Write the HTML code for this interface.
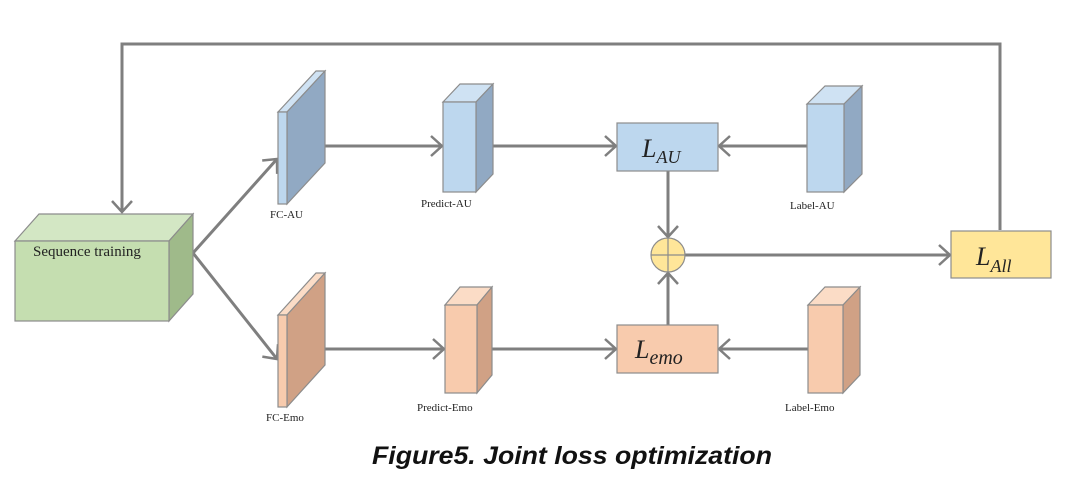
<!DOCTYPE html>
<html><head><meta charset="utf-8"><style>html,body{margin:0;padding:0;background:#fff}svg{display:block}</style></head>
<body>
<svg width="1080" height="485" viewBox="0 0 1080 485" xmlns="http://www.w3.org/2000/svg">
<defs>
<marker id="a" markerWidth="16" markerHeight="24" refX="13" refY="12" orient="auto" markerUnits="userSpaceOnUse">
<polyline points="2,2 13,12 2,22" fill="none" stroke="#7f7f7f" stroke-width="2.5"/>
</marker>
</defs>
<g stroke="#7f7f7f" stroke-width="3" fill="none">
<polyline points="1000,230 1000,44 122,44 122,212" marker-end="url(#a)"/>
<line x1="193" y1="253" x2="277" y2="159" marker-end="url(#a)"/>
<line x1="193" y1="253" x2="277" y2="359" marker-end="url(#a)"/>
<line x1="325" y1="146" x2="442" y2="146" marker-end="url(#a)"/>
<line x1="325" y1="349" x2="444" y2="349" marker-end="url(#a)"/>
<line x1="476" y1="146" x2="616" y2="146" marker-end="url(#a)"/>
<line x1="477" y1="349" x2="616" y2="349" marker-end="url(#a)"/>
<line x1="807" y1="146" x2="719" y2="146" marker-end="url(#a)"/>
<line x1="808" y1="349" x2="719" y2="349" marker-end="url(#a)"/>
<line x1="668" y1="171" x2="668" y2="237" marker-end="url(#a)"/>
<line x1="668" y1="325" x2="668" y2="273" marker-end="url(#a)"/>
<line x1="685" y1="255" x2="950" y2="255" marker-end="url(#a)"/>
</g>
<g stroke="#8c8c8c" stroke-width="1.2">
<polygon points="15,241 39,214 193,214 169,241" fill="#d3e7c4"/>
<polygon points="169,241 193,214 193,294 169,321" fill="#9fba8a"/>
<rect x="15" y="241" width="154" height="80" fill="#c5deb0"/>
<polygon points="278,112 316,71 325,71 287,112" fill="#cfe2f3"/>
<polygon points="287,112 325,71 325,163 287,204" fill="#91a9c3"/>
<rect x="278" y="112" width="9" height="92" fill="#bdd7ee"/>
<polygon points="278,315 316,273 325,273 287,315" fill="#fbdcc6"/>
<polygon points="287,315 325,273 325,365 287,407" fill="#d0a185"/>
<rect x="278" y="315" width="9" height="92" fill="#f8cbad"/>
<polygon points="443,102 460,84 493,84 476,102" fill="#cfe2f3"/>
<polygon points="476,102 493,84 493,174 476,192" fill="#91a9c3"/>
<rect x="443" y="102" width="33" height="90" fill="#bdd7ee"/>
<polygon points="445,305 460,287 492,287 477,305" fill="#fbdcc6"/>
<polygon points="477,305 492,287 492,375 477,393" fill="#d0a185"/>
<rect x="445" y="305" width="32" height="88" fill="#f8cbad"/>
<polygon points="807,104 825,86 862,86 844,104" fill="#cfe2f3"/>
<polygon points="844,104 862,86 862,174 844,192" fill="#91a9c3"/>
<rect x="807" y="104" width="37" height="88" fill="#bdd7ee"/>
<polygon points="808,305 825,287 860,287 843,305" fill="#fbdcc6"/>
<polygon points="843,305 860,287 860,375 843,393" fill="#d0a185"/>
<rect x="808" y="305" width="35" height="88" fill="#f8cbad"/>
<rect x="617" y="123" width="101" height="48" fill="#bdd7ee"/>
<rect x="617" y="325" width="101" height="48" fill="#f8cbad"/>
<rect x="951" y="231" width="100" height="47" fill="#ffe699"/>
<circle cx="668" cy="255" r="17" fill="#ffe699"/>
<line x1="651" y1="255" x2="685" y2="255"/>
<line x1="668" y1="238" x2="668" y2="272"/>
</g>
<g font-family="Liberation Serif, serif" fill="#222">
<text x="33" y="256" font-size="15">Sequence training</text>
<text x="270" y="218" font-size="11">FC-AU</text>
<text x="421" y="207" font-size="11">Predict-AU</text>
<text x="790" y="209" font-size="11">Label-AU</text>
<text x="266" y="421" font-size="11">FC-Emo</text>
<text x="417" y="411" font-size="11">Predict-Emo</text>
<text x="785" y="411" font-size="11">Label-Emo</text>
<text x="642" y="157" font-size="26" font-style="italic">L<tspan font-size="18" dy="6">AU</tspan></text>
<text x="635" y="358" font-size="26" font-style="italic">L<tspan font-size="20" dy="6">emo</tspan></text>
<text x="976" y="265" font-size="26" font-style="italic">L<tspan font-size="18" dy="7">All</tspan></text>
</g>
<text x="372" y="464" font-family="Liberation Sans, sans-serif" font-weight="bold" font-style="italic" font-size="25" textLength="400" lengthAdjust="spacingAndGlyphs" fill="#111">Figure5. Joint loss optimization</text>
</svg>
</body></html>
